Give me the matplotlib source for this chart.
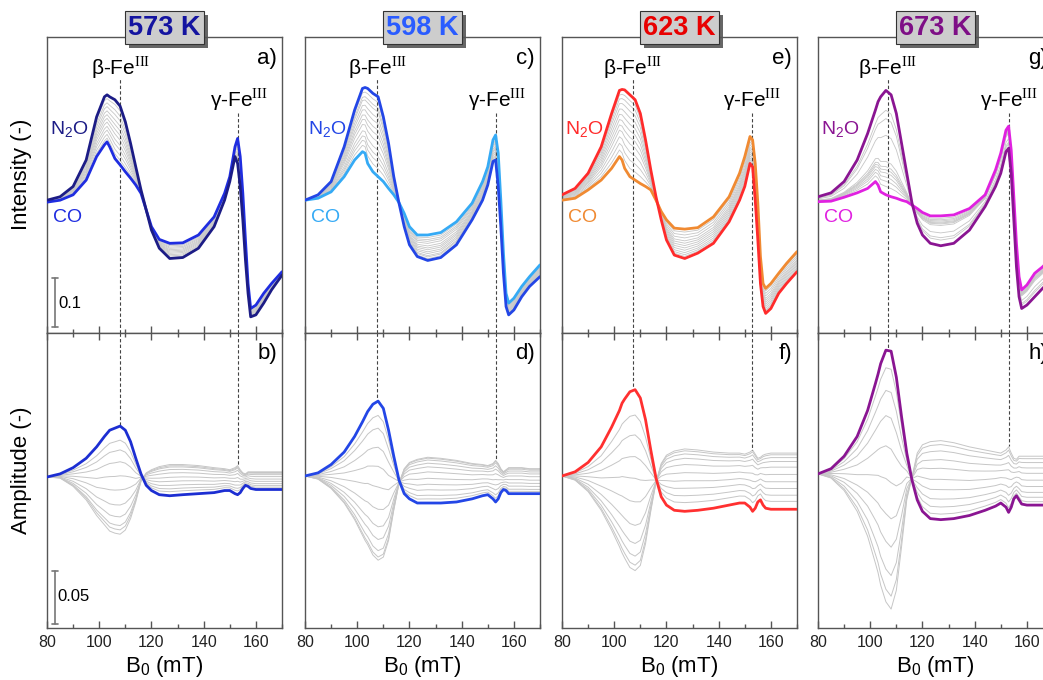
import numpy as np
import matplotlib
matplotlib.use('Agg')
import matplotlib.pyplot as plt
import matplotlib.patheffects as pe
from matplotlib.ticker import MultipleLocator

plt.rcParams['font.family'] = ['Liberation Sans', 'DejaVu Sans']
plt.rcParams['mathtext.fontset'] = 'custom'
plt.rcParams['mathtext.rm'] = 'Liberation Serif'
plt.rcParams['mathtext.sf'] = 'Liberation Sans'
plt.rcParams['lines.solid_joinstyle'] = 'round'
plt.rcParams['lines.solid_capstyle'] = 'round'

# ---- data ----
temps = ['573 K', '598 K', '623 K', '673 K']
top_letters = ['a)', 'c)', 'e)', 'g)']
bot_letters = ['b)', 'd)', 'f)', 'h)']

B = np.array([80, 85, 90, 95, 99, 102, 103, 104, 106, 108, 110, 112, 114, 116, 118, 120,
              123, 127, 132, 138, 144, 148, 150, 152, 153, 154, 155, 156, 157, 158, 160,
              163, 166, 170])

# intensity, N2O end state
n2o_573 = [0.271, 0.278, 0.299, 0.353, 0.441, 0.482, 0.486, 0.482, 0.476, 0.463, 0.431, 0.387,
           0.339, 0.292, 0.251, 0.210, 0.173, 0.152, 0.154, 0.173, 0.217, 0.271, 0.309, 0.360,
           0.346, 0.299, 0.231, 0.149, 0.081, 0.033, 0.037, 0.061, 0.088, 0.118]
n2o_598 = [0.271, 0.282, 0.309, 0.380, 0.455, 0.499, 0.501, 0.499, 0.489, 0.482, 0.441, 0.387,
           0.319, 0.265, 0.217, 0.180, 0.156, 0.148, 0.154, 0.180, 0.231, 0.271, 0.302, 0.350,
           0.353, 0.299, 0.217, 0.122, 0.054, 0.037, 0.047, 0.074, 0.095, 0.115]
n2o_623 = [0.282, 0.295, 0.326, 0.380, 0.448, 0.495, 0.497, 0.496, 0.486, 0.476, 0.448, 0.394,
           0.333, 0.278, 0.231, 0.190, 0.159, 0.152, 0.163, 0.183, 0.227, 0.271, 0.299, 0.346,
           0.339, 0.271, 0.190, 0.101, 0.054, 0.040, 0.050, 0.081, 0.101, 0.125]
n2o_673 = [0.278, 0.286, 0.309, 0.353, 0.407, 0.455, 0.472, 0.482, 0.495, 0.486, 0.448, 0.387,
           0.326, 0.265, 0.224, 0.200, 0.183, 0.178, 0.183, 0.210, 0.258, 0.299, 0.326, 0.370,
           0.377, 0.326, 0.231, 0.135, 0.074, 0.050, 0.057, 0.074, 0.091, 0.112]

# intensity, CO end state
co_573 = [0.267, 0.271, 0.282, 0.312, 0.360, 0.384, 0.390, 0.380, 0.356, 0.343, 0.329, 0.316,
          0.302, 0.285, 0.251, 0.217, 0.191, 0.183, 0.184, 0.200, 0.237, 0.285, 0.319, 0.380,
          0.397, 0.360, 0.285, 0.190, 0.101, 0.050, 0.057, 0.081, 0.101, 0.125]
co_598 = [0.271, 0.275, 0.288, 0.319, 0.353, 0.370, 0.367, 0.346, 0.329, 0.319, 0.309, 0.295,
          0.282, 0.266, 0.244, 0.217, 0.200, 0.200, 0.205, 0.227, 0.265, 0.309, 0.339, 0.394,
          0.404, 0.367, 0.271, 0.163, 0.081, 0.061, 0.071, 0.095, 0.115, 0.139]
co_623 = [0.271, 0.275, 0.292, 0.312, 0.336, 0.360, 0.353, 0.336, 0.319, 0.312, 0.305, 0.299,
          0.292, 0.271, 0.248, 0.231, 0.214, 0.212, 0.215, 0.237, 0.278, 0.326, 0.360, 0.401,
          0.394, 0.346, 0.265, 0.156, 0.101, 0.091, 0.101, 0.122, 0.142, 0.166]
co_673 = [0.268, 0.269, 0.277, 0.286, 0.295, 0.309, 0.302, 0.288, 0.282, 0.278, 0.275, 0.271,
          0.268, 0.261, 0.254, 0.246, 0.239, 0.239, 0.241, 0.254, 0.282, 0.333, 0.367, 0.414,
          0.422, 0.373, 0.278, 0.183, 0.115, 0.088, 0.098, 0.122, 0.135, 0.156]

# phase-resolved amplitude, highlighted spectrum
amp_573 = [0.000, 0.003, 0.009, 0.018, 0.029, 0.039, 0.042, 0.045, 0.047, 0.049, 0.045, 0.034,
           0.018, 0.003, -0.008, -0.013, -0.017, -0.018, -0.017, -0.016, -0.015, -0.013, -0.013,
           -0.016, -0.017, -0.015, -0.011, -0.008, -0.009, -0.011, -0.012, -0.012, -0.012, -0.012]
amp_598 = [0.001, 0.004, 0.012, 0.024, 0.039, 0.053, 0.058, 0.063, 0.070, 0.073, 0.066, 0.045,
           0.020, -0.003, -0.016, -0.021, -0.025, -0.025, -0.025, -0.024, -0.021, -0.018, -0.017,
           -0.021, -0.024, -0.021, -0.015, -0.012, -0.013, -0.016, -0.016, -0.016, -0.016, -0.016]
amp_623 = [0.001, 0.005, 0.014, 0.029, 0.048, 0.064, 0.071, 0.075, 0.082, 0.084, 0.076, 0.055,
           0.026, -0.001, -0.019, -0.027, -0.032, -0.033, -0.032, -0.030, -0.027, -0.025, -0.025,
           -0.029, -0.033, -0.030, -0.024, -0.022, -0.027, -0.030, -0.031, -0.031, -0.031, -0.031]
amp_673 = [0.003, 0.008, 0.020, 0.039, 0.064, 0.090, 0.099, 0.109, 0.122, 0.121, 0.096, 0.058,
           0.023, -0.003, -0.022, -0.033, -0.040, -0.041, -0.040, -0.037, -0.032, -0.028, -0.025,
           -0.029, -0.034, -0.029, -0.021, -0.018, -0.022, -0.026, -0.027, -0.027, -0.027, -0.027]

# phase-resolved amplitude, opposite (most negative) grey spectrum
amp_opp_573 = [0.000, -0.001, -0.009, -0.022, -0.037, -0.046, -0.049, -0.052, -0.054, -0.055,
               -0.051, -0.040, -0.024, -0.004, 0.004, 0.007, 0.010, 0.012, 0.012, 0.011, 0.009,
               0.008, 0.007, 0.009, 0.011, 0.007, 0.004, 0.003, 0.005, 0.005, 0.005, 0.005,
               0.005, 0.005]
amp_opp_598 = [0.001, -0.002, -0.011, -0.025, -0.041, -0.056, -0.061, -0.065, -0.075, -0.080,
               -0.077, -0.061, -0.032, -0.006, 0.008, 0.014, 0.017, 0.019, 0.018, 0.016, 0.013,
               0.012, 0.011, 0.013, 0.016, 0.013, 0.008, 0.005, 0.007, 0.009, 0.009, 0.009,
               0.008, 0.008]
amp_opp_623 = [0.001, -0.003, -0.014, -0.032, -0.051, -0.067, -0.073, -0.078, -0.087, -0.090,
               -0.085, -0.064, -0.033, -0.005, 0.013, 0.021, 0.025, 0.027, 0.026, 0.024, 0.023,
               0.023, 0.022, 0.024, 0.026, 0.022, 0.018, 0.019, 0.021, 0.022, 0.023, 0.023,
               0.023, 0.023]
amp_opp_673 = [0.003, -0.001, -0.013, -0.033, -0.057, -0.083, -0.092, -0.104, -0.120, -0.127,
               -0.109, -0.067, -0.022, 0.000, 0.023, 0.031, 0.034, 0.035, 0.033, 0.029, 0.026,
               0.024, 0.023, 0.026, 0.029, 0.023, 0.018, 0.017, 0.020, 0.020, 0.020, 0.020,
               0.020, 0.020]

# where each grey spectrum sits between the two ends (read at the beta peak)
top_mix = [[0.08, 0.16, 0.25, 0.33, 0.42, 0.50, 0.58, 0.66, 0.75, 0.83, 0.92],
           [0.10, 0.18, 0.25, 0.33, 0.43, 0.51, 0.58, 0.66, 0.73, 0.81, 0.86, 0.93],
           [0.10, 0.20, 0.30, 0.40, 0.48, 0.56, 0.64, 0.72, 0.80, 0.87, 0.93],
           [0.08, 0.13, 0.17, 0.21, 0.24, 0.27, 0.32, 0.57, 0.73, 0.81]]
bot_mix = [[0.13, 0.22, 0.33, 0.46, 0.59, 0.73, 0.84, 0.92, 0.96, 1.0],
           [0.09, 0.17, 0.29, 0.41, 0.54, 0.68, 0.79, 0.87, 0.94, 0.98, 1.0],
           [0.14, 0.25, 0.37, 0.49, 0.62, 0.75, 0.85, 0.92, 0.97, 1.0],
           [0.07, 0.16, 0.26, 0.38, 0.51, 0.65, 0.76, 0.87, 0.95, 1.0]]

beta_pos = [108.0, 107.6, 107.2, 106.7]
gamma_pos = [153.3, 153.3, 152.7, 153.2]
beta_end = [0.049, 0.073, 0.084, 0.124]
gamma_end = [0.011, 0.016, 0.026, 0.030]

n2o_all = [n2o_573, n2o_598, n2o_623, n2o_673]
co_all = [co_573, co_598, co_623, co_673]
amp_all = [amp_573, amp_598, amp_623, amp_673]
opp_all = [amp_opp_573, amp_opp_598, amp_opp_623, amp_opp_673]

title_colors = ['#1414a0', '#2a5cff', '#e80000', '#7e0f86']
n2o_colors = ['#1c1c86', '#2346e6', '#ff2b2b', '#8a1592']
co_colors = ['#1f2de0', '#35aaf5', '#f08a32', '#e021e0']
amp_colors = ['#1c2ed2', '#2346e6', '#ff3030', '#8a1592']
grey = '#c6c6c6'

# ---- layout (pixels of a 1043 x 680 figure) ----
W, H = 1043, 680
lefts = [47, 305, 562, 818]
pw = 235

fig = plt.figure(figsize=(W / 100, H / 100), dpi=100)

for i in range(4):
    ax_t = fig.add_axes([lefts[i] / W, (H - 333) / H, pw / W, 296 / H])
    ax_b = fig.add_axes([lefts[i] / W, (H - 628) / H, pw / W, 295 / H])

    n2o = np.array(n2o_all[i])
    co = np.array(co_all[i])
    amp = np.array(amp_all[i])
    opp = np.array(opp_all[i])

    # top: intensity
    for f in top_mix[i]:
        ax_t.plot(B, co + f * (n2o - co), color=grey, lw=0.6, zorder=1)
    ax_t.plot(B, co, color=co_colors[i], lw=2.0, zorder=3)
    ax_t.plot(B, n2o, color=n2o_colors[i], lw=2.0, zorder=3)

    # bottom: amplitude
    for f in bot_mix[i]:
        ax_b.plot(B, amp + f * (opp - amp), color=grey, lw=0.7, zorder=1)
    ax_b.plot(B, amp, color=amp_colors[i], lw=2.0, zorder=3)

    ax_t.set_ylim(0, 0.604)
    ax_b.set_ylim(-0.1452, 0.1385)

    # dashed guides
    ax_t.plot([beta_pos[i]] * 2, [0, 0.518], ls=(0, (3, 2)), color='#444444', lw=0.8, zorder=2)
    ax_t.plot([gamma_pos[i]] * 2, [0, 0.452], ls=(0, (3, 2)), color='#444444', lw=0.8, zorder=2)
    ax_b.plot([beta_pos[i]] * 2, [0.1385, beta_end[i]], ls=(0, (3, 2)), color='#444444', lw=0.8, zorder=2)
    ax_b.plot([gamma_pos[i]] * 2, [0.1385, gamma_end[i]], ls=(0, (3, 2)), color='#444444', lw=0.8, zorder=2)

    ax_t.text(beta_pos[i], 0.527, r'β-Fe$^{\mathrm{III}}$', ha='center', va='baseline', fontsize=15)
    ax_t.text(gamma_pos[i], 0.462, r'γ-Fe$^{\mathrm{III}}$', ha='center', va='baseline', fontsize=15)
    ax_t.text(81.3, 0.414, r'N$_\mathsf{2}$O', color=n2o_colors[i], va='center', fontsize=14)
    ax_t.text(82.3, 0.235, 'CO', color=co_colors[i], va='center', fontsize=14)

    ax_t.text(0.979, 0.926, top_letters[i], transform=ax_t.transAxes, ha='right', va='center', fontsize=16)
    ax_b.text(0.979, 0.929, bot_letters[i], transform=ax_b.transAxes, ha='right', va='center', fontsize=16)

    t = ax_t.text(0.5, 1.032, temps[i], transform=ax_t.transAxes, ha='center', va='center',
                  fontsize=19.5, fontweight='bold', color=title_colors[i], zorder=10,
                  bbox=dict(boxstyle='square,pad=0.12', fc='#cdcdcd', ec='#333333', lw=0.8))
    t.get_bbox_patch().set_path_effects([pe.withSimplePatchShadow(offset=(3, -3),
                                                                  shadow_rgbFace='#555555', alpha=0.9)])

    for ax in (ax_t, ax_b):
        ax.set_xlim(80, 170)
        ax.set_xticks([80, 100, 120, 140, 160])
        ax.xaxis.set_minor_locator(MultipleLocator(10))
        ax.set_yticks([])
        ax.tick_params(axis='x', which='both', direction='in', color='#555555',
                       labelcolor='#222222', labelsize=11.5, pad=5)
        ax.tick_params(which='major', length=5, width=1)
        ax.tick_params(which='minor', length=3, width=1)
        for s in ax.spines.values():
            s.set_color('#555555')
            s.set_linewidth(1.0)
    ax_t.tick_params(axis='x', which='both', labelbottom=False)
    ax_b.tick_params(axis='x', which='both', top=True)
    ax_b.text(0.5, -0.148, r'B$_\mathsf{0}$ (mT)', transform=ax_b.transAxes,
              ha='center', va='baseline', fontsize=16)

    if i == 0:
        # scale bars
        ax_t.plot([83.1, 83.1], [0.012, 0.112], color='#777777', lw=1.2)
        ax_t.plot([81.9, 84.3], [0.012, 0.012], color='#777777', lw=1.2)
        ax_t.plot([81.9, 84.3], [0.112, 0.112], color='#777777', lw=1.2)
        ax_t.text(84.2, 0.061, '0.1', va='center', fontsize=12)
        ax_b.plot([83.1, 83.1], [-0.141, -0.090], color='#777777', lw=1.2)
        ax_b.plot([81.9, 84.3], [-0.141, -0.141], color='#777777', lw=1.2)
        ax_b.plot([81.9, 84.3], [-0.090, -0.090], color='#777777', lw=1.2)
        ax_b.text(84.0, -0.115, '0.05', va='center', fontsize=12)

fig.text(22 / W, 1 - 174 / H, 'Intensity (-)', rotation=90, ha='center', va='center', fontsize=16)
fig.text(22 / W, 1 - 470 / H, 'Amplitude (-)', rotation=90, ha='center', va='center', fontsize=16)

fig.savefig('out.png', dpi=100)
